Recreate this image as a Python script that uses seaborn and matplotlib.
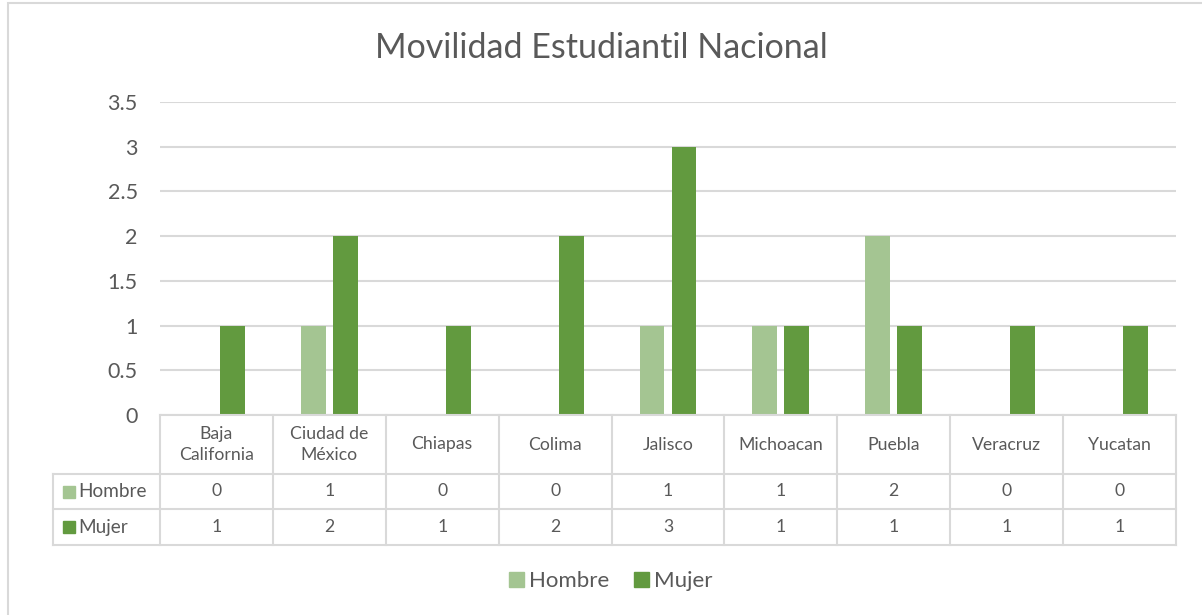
import pandas as pd
import numpy as np
import matplotlib.pyplot as plt
import matplotlib.patches as mpatches
import seaborn as sns

# Datos
estados = ['Baja\nCalifornia', 'Ciudad de\nMéxico', 'Chiapas', 'Colima', 'Jalisco',
           'Michoacan', 'Puebla', 'Veracruz', 'Yucatan']
hombre = [0, 1, 0, 0, 1, 1, 2, 0, 0]
mujer = [1, 2, 1, 2, 3, 1, 1, 1, 1]
series = ['Hombre', 'Mujer']
colores = ['#A4C592', '#629A3F']
y_ticks = [0, 0.5, 1, 1.5, 2, 2.5, 3, 3.5]
titulo = 'Movilidad Estudiantil Nacional'

df = pd.DataFrame({'Estado': estados * 2,
                   'Sexo': ['Hombre'] * len(estados) + ['Mujer'] * len(estados),
                   'Valor': hombre + mujer})

sns.set_theme(style='white')
plt.rcParams['font.family'] = ['Lato', 'DejaVu Sans']
gris = '#595959'
linea = '#D9D9D9'

fig = plt.figure(figsize=(12.02, 6.15), dpi=100)
ax = fig.add_axes([160 / 1202, 1 - 415 / 615, 1016 / 1202, 313 / 615])

sns.barplot(data=df, x='Estado', y='Valor', hue='Sexo', palette=colores,
            width=0.567, gap=0.22, saturation=1, linewidth=0, ax=ax, legend=False)

n = len(estados)
ax.set_ylim(0, 3.5)
ax.set_xlim(-0.5, n - 0.5)
ax.set_yticks(y_ticks)
ax.set_yticklabels([f'{t:g}' for t in y_ticks], color=gris, fontsize=15.5)
ax.tick_params(axis='y', length=0, pad=16)
ax.set_xticks([])
ax.set_xlabel('')
ax.set_ylabel('')
ax.grid(axis='y', color=linea, linewidth=1.5)
ax.set_axisbelow(True)
for s in ['top', 'right', 'left']:
    ax.spines[s].set_visible(False)
ax.spines['bottom'].set_color(linea)
ax.spines['bottom'].set_linewidth(1.5)

# Tabla de datos (dibujada a mano bajo el eje)
tr = ax.get_xaxis_transform()
alto = 313
y_filas = [0, -59 / alto, -94 / alto, -130 / alto]
x_izq = -0.5 - 107 / (1016 / n)
x_der = n - 0.5
kw = dict(color=linea, linewidth=1.5, transform=tr, clip_on=False, solid_capstyle='projecting')
for k in range(n + 1):
    ax.plot([k - 0.5, k - 0.5], [y_filas[0], y_filas[-1]], **kw)
ax.plot([x_izq, x_izq], [y_filas[1], y_filas[-1]], **kw)
for yy in y_filas[1:]:
    ax.plot([x_izq, x_der], [yy, yy], **kw)

for i, est in enumerate(estados):
    ax.text(i, (y_filas[0] + y_filas[1]) / 2, est, transform=tr, ha='center', va='center',
            color=gris, fontsize=12.7, linespacing=1.45)
for j, valores in enumerate([hombre, mujer]):
    yc = (y_filas[j + 1] + y_filas[j + 2]) / 2
    for i, v in enumerate(valores):
        ax.text(i, yc, str(v), transform=tr, ha='center', va='center',
                color=gris, fontsize=12.7)

# Etiquetas de fila con cuadro de color
for j, (nombre, col) in enumerate(zip(series, colores)):
    yc = (y_filas[j + 1] + y_filas[j + 2]) / 2
    ax.add_patch(mpatches.Rectangle((-97 / 1016, yc - 6 / alto), 12 / 1016, 12 / alto,
                                    transform=ax.transAxes, color=col, clip_on=False))
    ax.text(-82 / 1016, yc, nombre, transform=ax.transAxes, color=gris,
            fontsize=13.7, va='center', ha='left')

# Leyenda
handles = [mpatches.Patch(color=c, label=s) for s, c in zip(series, colores)]
fig.legend(handles=handles, loc='center', bbox_to_anchor=(611 / 1202, 1 - 581 / 615), ncol=2,
           frameon=False, fontsize=16, handlelength=0.65, handleheight=0.65,
           handletextpad=0.25, columnspacing=1.1, labelcolor=gris)

fig.suptitle(titulo, y=1 - 48 / 615, va='center', fontsize=24.5, color=gris)

# Borde del gráfico
fig.patches.append(mpatches.Rectangle((8 / 1202, -0.1), 1.1, 1 - 3 / 615 + 0.1,
                                      transform=fig.transFigure, fill=False,
                                      edgecolor=linea, linewidth=1.5))

fig.savefig('out.png', dpi=100)
